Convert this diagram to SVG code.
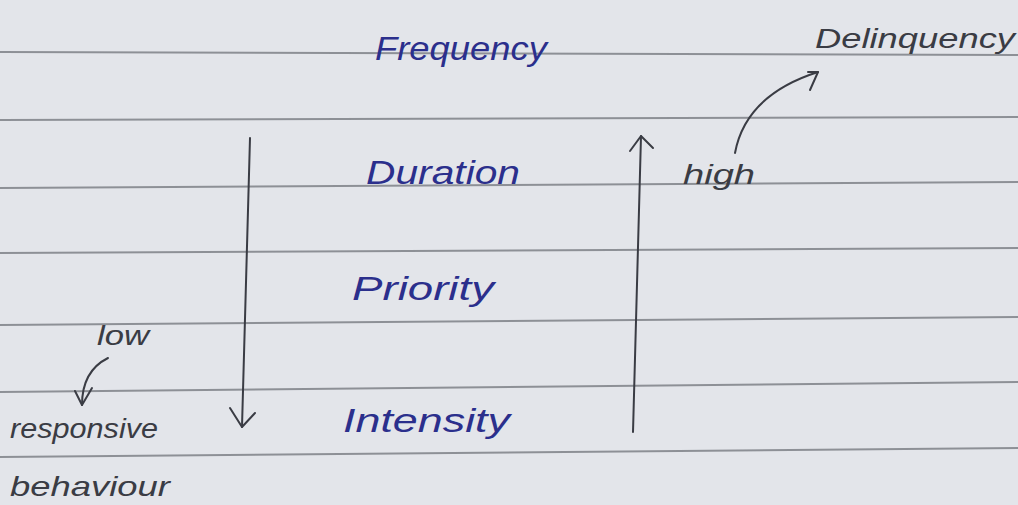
<svg xmlns="http://www.w3.org/2000/svg" width="1018" height="505" viewBox="0 0 1018 505">
<style>
.rule{stroke:#8d9096;stroke-width:2;fill:none}
.blue{font-family:"Liberation Sans",sans-serif;font-style:italic;fill:#2b2f8c;font-size:34px}
.ink{font-family:"Liberation Sans",sans-serif;font-style:italic;fill:#3a3c44;font-size:28px}
.pen{stroke:#3a3c44;stroke-width:2;fill:none;stroke-linecap:round;stroke-linejoin:round}
</style>
<rect width="1018" height="505" fill="#e3e5ea"/>
<g id="paper-lines">
<path class="rule" d="M0 52 L1018 55"/>
<path class="rule" d="M0 120 L1018 117"/>
<path class="rule" d="M0 188 L1018 182"/>
<path class="rule" d="M0 253 L1018 248"/>
<path class="rule" d="M0 325 L1018 317"/>
<path class="rule" d="M0 392 L1018 382"/>
<path class="rule" d="M0 457 L1018 448"/>
</g>
<g id="frequency"><text class="blue" x="375" y="60" textLength="172" lengthAdjust="spacingAndGlyphs">Frequency</text></g>
<g id="duration"><text class="blue" x="366" y="184" textLength="154" lengthAdjust="spacingAndGlyphs">Duration</text></g>
<g id="priority"><text class="blue" x="352" y="300" textLength="142" lengthAdjust="spacingAndGlyphs">Priority</text></g>
<g id="intensity"><text class="blue" x="343" y="432" textLength="167" lengthAdjust="spacingAndGlyphs">Intensity</text></g>
<g id="delinquency"><text class="ink" x="815" y="48" textLength="200" lengthAdjust="spacingAndGlyphs">Delinquency</text></g>
<g id="high"><text class="ink" x="683" y="184" textLength="72" lengthAdjust="spacingAndGlyphs">high</text></g>
<g id="low"><text class="ink" x="97" y="345" textLength="52" lengthAdjust="spacingAndGlyphs">low</text></g>
<g id="responsive-behaviour">
<text class="ink" x="10" y="438" textLength="148" lengthAdjust="spacingAndGlyphs">responsive</text>
<text class="ink" x="10" y="496" textLength="160" lengthAdjust="spacingAndGlyphs">behaviour</text>
</g>
<g id="connectors">
<path class="pen" d="M250 138 L242 427"/>
<path class="pen" d="M230 408 L242 427 L255 413"/>
<path class="pen" d="M633 432 L641 136"/>
<path class="pen" d="M630 151 L641 136 L653 148"/>
<path class="pen" d="M735 153 C742 115 768 88 818 72"/>
<path class="pen" d="M808 72 L818 72 L810 90"/>
<path class="pen" d="M108 358 C92 366 82 380 82 405"/>
<path class="pen" d="M75 391 L82 405 L92 388"/>
</g>
</svg>
